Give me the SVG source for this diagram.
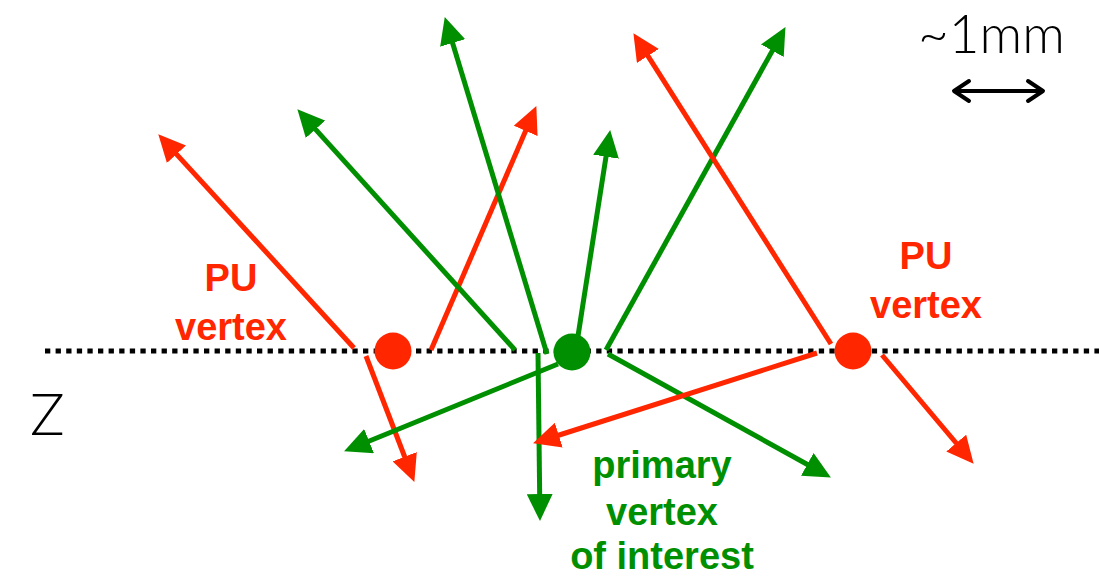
<svg xmlns="http://www.w3.org/2000/svg" width="1099" height="577" viewBox="0 0 1099 577">
<style>
.lbl{font-family:"Liberation Sans",Arial,sans-serif;font-weight:bold;font-size:38px;text-anchor:middle}
.red{fill:#ff2600}
.grn{fill:#008f00}
.tr{stroke:#ff2600;stroke-width:5;fill:none;marker-end:url(#ahR)}
.tg{stroke:#008f00;stroke-width:5;fill:none;marker-end:url(#ahG)}
.thin{font-family:Lato,"Liberation Sans",Arial,sans-serif;font-weight:300;fill:#000}
</style>
<defs>
<marker id="ahR" markerUnits="userSpaceOnUse" viewBox="0 0 27 26" refX="11" refY="13" markerWidth="27" markerHeight="26" orient="auto"><path d="M0,0 L27,13 L0,26 z" fill="#ff2600"/></marker>
<marker id="ahG" markerUnits="userSpaceOnUse" viewBox="0 0 27 26" refX="11" refY="13" markerWidth="27" markerHeight="26" orient="auto"><path d="M0,0 L27,13 L0,26 z" fill="#008f00"/></marker>
</defs>
<rect width="1099" height="577" fill="#fff"/>
<g id="z-axis">
<line x1="45" y1="351" x2="1099" y2="351" stroke="#000" stroke-width="5" stroke-dasharray="5.3 5.3"/>
<text class="thin" x="30" y="435" font-size="58">Z</text>
</g>
<g id="scale">
<text class="thin" x="918" y="53" font-size="53">~1mm</text>
<line x1="954" y1="91" x2="1043" y2="91" stroke="#000" stroke-width="4"/>
<polyline points="969,81 954,91 969,101" fill="none" stroke="#000" stroke-width="4" stroke-linecap="round" stroke-linejoin="round"/>
<polyline points="1028,81 1043,91 1028,101" fill="none" stroke="#000" stroke-width="4" stroke-linecap="round" stroke-linejoin="round"/>
</g>
<g id="connectors">
<line class="tr" x1="354" y1="348" x2="169.1" y2="146.1"/>
<line class="tr" x1="431" y1="350" x2="530.0" y2="120.8"/>
<line class="tr" x1="366" y1="356" x2="408.6" y2="467.0"/>
<line class="tg" x1="515" y1="350" x2="308.1" y2="121.1"/>
<line class="tg" x1="547" y1="354" x2="449.4" y2="32.4"/>
<line class="tg" x1="578" y1="336" x2="607.7" y2="145.8"/>
<line class="tg" x1="606" y1="350" x2="777.7" y2="41.1"/>
<line class="tg" x1="608" y1="354" x2="816.9" y2="469.7"/>
<line class="tg" x1="558" y1="364" x2="358.9" y2="445.3"/>
<line class="tg" x1="538" y1="353" x2="539.8" y2="505"/>
<line class="tr" x1="831" y1="344" x2="642.0" y2="46.7"/>
<line class="tr" x1="817" y1="353" x2="548.3" y2="438.5"/>
<line class="tr" x1="882" y1="355" x2="963.3" y2="451.5"/>
</g>
<g id="pu-vertex-left">
<circle cx="393" cy="351" r="18.5" class="red"/>
<text class="lbl red" x="231" y="291">PU</text>
<text class="lbl red" x="231" y="340">vertex</text>
</g>
<g id="primary-vertex">
<circle cx="572" cy="352" r="18.5" class="grn"/>
<text class="lbl grn" x="662" y="478" font-size="39">primary</text>
<text class="lbl grn" x="662" y="525" font-size="39">vertex</text>
<text class="lbl grn" x="662" y="569" font-size="39">of interest</text>
</g>
<g id="pu-vertex-right">
<circle cx="853" cy="351" r="18.5" class="red"/>
<text class="lbl red" x="926" y="269">PU</text>
<text class="lbl red" x="926" y="318">vertex</text>
</g>
</svg>
